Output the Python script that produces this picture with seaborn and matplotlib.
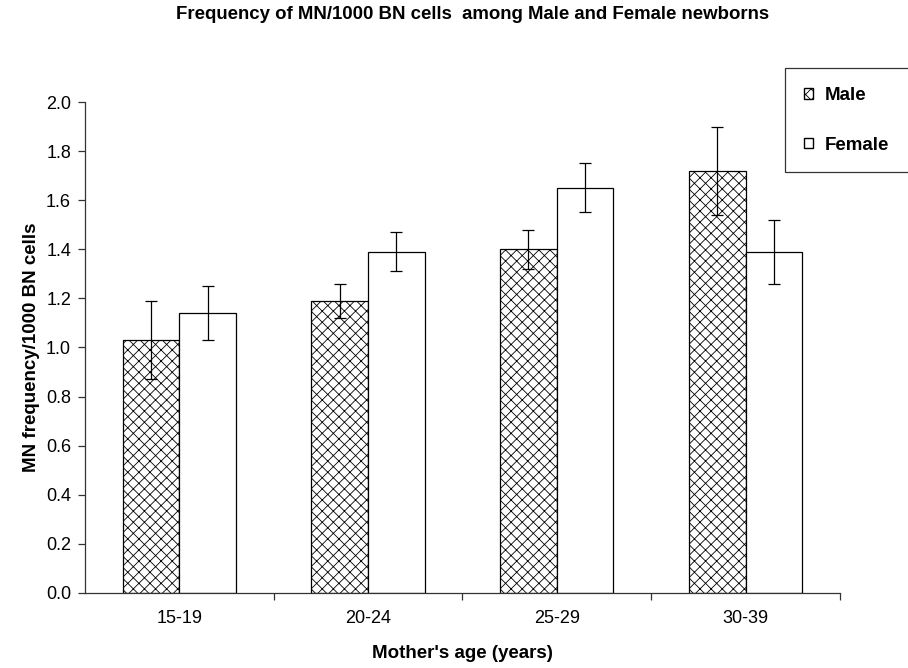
import matplotlib
matplotlib.use("Agg")
import matplotlib.pyplot as plt
import numpy as np
import pandas as pd
import seaborn as sns
from matplotlib.patches import Patch
from matplotlib.ticker import FixedLocator, FormatStrFormatter

age_groups = ["15-19", "20-24", "25-29", "30-39"]
male_mean = [1.03, 1.19, 1.40, 1.72]
female_mean = [1.14, 1.39, 1.65, 1.39]
male_err = [0.16, 0.07, 0.08, 0.18]
female_err = [0.11, 0.08, 0.10, 0.13]

sns.set_theme(style="white")
plt.rcParams['font.family'] = ['Liberation Sans', 'DejaVu Sans']
plt.rcParams['hatch.linewidth'] = 0.6
for key in ["text.color", "axes.labelcolor", "xtick.color", "ytick.color"]:
    plt.rcParams[key] = "black"

df = pd.DataFrame({
    "age": age_groups * 2,
    "freq": male_mean + female_mean,
    "sex": ["Male"] * 4 + ["Female"] * 4,
})

fig = plt.figure(figsize=(9.08, 6.68), dpi=100)
ax = fig.add_axes([0.0936, 0.1123, 0.8314, 0.7350])

sns.barplot(data=df, x="age", y="freq", hue="sex", order=age_groups,
            hue_order=["Male", "Female"], palette=["white", "white"],
            width=0.6, edgecolor="black", linewidth=0.9, errorbar=None,
            legend=False, ax=ax)

# hatch the male bars and add error bars
errs = [male_err, female_err]
bar_conts = list(ax.containers)
for i, cont in enumerate(bar_conts):
    xs = []
    ys = []
    for bar in cont:
        if i == 0:
            bar.set_hatch("xxx")
        xs.append(bar.get_x() + bar.get_width() / 2)
        ys.append(bar.get_height())
    ax.errorbar(xs, ys, yerr=errs[i], fmt="none", ecolor="black",
                elinewidth=0.9, capsize=4, capthick=0.9)

ax.set_xlim(-0.5, 3.5)
ax.set_ylim(0, 2.0)
ax.set_yticks(np.arange(0, 2.01, 0.2))
ax.yaxis.set_major_formatter(FormatStrFormatter("%.1f"))
ax.xaxis.set_minor_locator(FixedLocator([0.5, 1.5, 2.5, 3.5]))
ax.tick_params(axis="x", which="major", length=0, pad=12, labelsize=13)
ax.tick_params(axis="x", which="minor", length=5, width=0.9,
               color="#333333", direction="out", bottom=True)
ax.tick_params(axis="y", length=5, width=0.9, color="#333333",
               direction="out", left=True, labelsize=13, pad=5)

sns.despine(ax=ax)
for side in ["left", "bottom"]:
    ax.spines[side].set_color("#333333")
    ax.spines[side].set_linewidth(0.9)

ax.set_xlabel("Mother's age (years)", fontsize=13.5, fontweight="bold",
              labelpad=13)
ax.set_ylabel("MN frequency/1000 BN cells", fontsize=13.5, fontweight="bold",
              labelpad=4)

fig.text(0.52, 0.978, "Frequency of MN/1000 BN cells  among Male and Female newborns",
         ha="center", va="center", fontsize=13.4, fontweight="bold")

handles = [Patch(facecolor="white", edgecolor="black", hatch="xxx", label="Male"),
           Patch(facecolor="white", edgecolor="black", label="Female")]
leg = fig.legend(handles=handles, loc="upper left", mode="expand",
                 bbox_to_anchor=(0.8645, 0.0, 0.2, 0.898), frameon=True,
                 fancybox=False, prop={"weight": "bold", "size": 13.5},
                 handlelength=0.5, handleheight=0.5, handletextpad=0.6,
                 labelspacing=1.75, borderpad=1.0, borderaxespad=0)
leg.get_frame().set_edgecolor("black")
leg.get_frame().set_linewidth(0.9)

fig.savefig("out.png", dpi=100)
